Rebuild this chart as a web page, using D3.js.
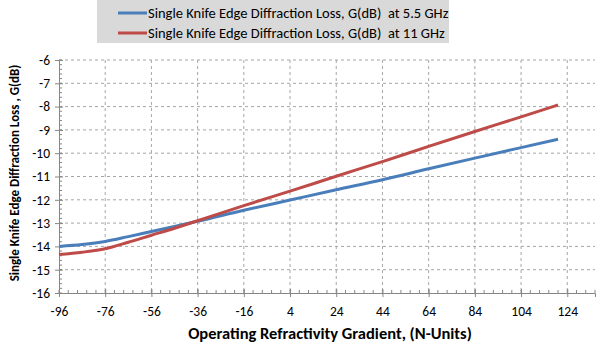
<!DOCTYPE html>
<html>
<head>
<meta charset="utf-8">
<script src="https://cdn.jsdelivr.net/npm/d3@7"></script>
<style>
  body { margin: 0; background: #fff; }
  text { font-family: Carlito, "Open Sans", "Noto Sans", sans-serif; fill: #000; }
</style>
</head>
<body>
<div id="chart"></div>
<script>
// refractivity gradient (N-units) where the curves were read
const gradient = [-96, -86, -76, -66, -56, -46, -36, -16, 4, 24, 44, 64, 84, 104, 120];
const loss55 = [-14.0, -13.92, -13.79, -13.58, -13.36, -13.14, -12.92, -12.45, -12.01, -11.57, -11.14, -10.67, -10.21, -9.76, -9.40];
const loss11 = [-14.35, -14.25, -14.1, -13.82, -13.52, -13.22, -12.9, -12.25, -11.63, -10.99, -10.36, -9.71, -9.07, -8.44, -7.93];
const xTicks = [-96, -76, -56, -36, -16, 4, 24, 44, 64, 84, 104, 124];
const yTicks = [-16, -15, -14, -13, -12, -11, -10, -9, -8, -7, -6];
const seriesNames = ["Single Knife Edge Diffraction Loss, G(dB)  at 5.5 GHz", "Single Knife Edge Diffraction Loss, G(dB)  at 11 GHz"];
const seriesColors = ["#4a7ebb", "#be4b48"];

const W = 606, H = 351;
const margin = { top: 60, right: 11, bottom: 58, left: 59 };
const width = W - margin.left - margin.right,
  height = H - margin.top - margin.bottom;

const root = d3.select("#chart").append("svg")
  .attr("width", W)
  .attr("height", H);

const svg = root.append("g")
  .attr("transform", `translate(${margin.left},${margin.top})`);

const x = d3.scaleLinear().domain([-96, 136]).range([0, width]);
const y = d3.scaleLinear().domain([-16, -6]).range([height, 0]);

// plain hyphen like the original, not the unicode minus
const fmt = d => String(d);

// dashed grid
svg.append("g")
  .selectAll("line")
  .data(yTicks.slice(1))
  .join("line")
  .attr("x1", 0).attr("x2", width)
  .attr("y1", d => y(d)).attr("y2", d => y(d))
  .attr("stroke", "#a6a6a6")
  .attr("stroke-dasharray", "3,3");

svg.append("g")
  .selectAll("line")
  .data(xTicks.slice(1))
  .join("line")
  .attr("x1", d => x(d)).attr("x2", d => x(d))
  .attr("y1", 0).attr("y2", height)
  .attr("stroke", "#a6a6a6")
  .attr("stroke-dasharray", "3,3");

// minor ticks (inside)
const xMinor = d3.range(-96, 137, 4);
svg.append("g")
  .selectAll("line")
  .data(xMinor)
  .join("line")
  .attr("x1", d => x(d)).attr("x2", d => x(d))
  .attr("y1", height).attr("y2", height - 3)
  .attr("stroke", "#868686");

const yMinor = d3.range(-16, -5.99, 0.2);
svg.append("g")
  .selectAll("line")
  .data(yMinor)
  .join("line")
  .attr("x1", 0).attr("x2", 3)
  .attr("y1", d => y(d)).attr("y2", d => y(d))
  .attr("stroke", "#868686");

// axes
const xAxis = svg.append("g")
  .attr("transform", `translate(0,${height})`)
  .call(d3.axisBottom(x).tickValues(xTicks).tickFormat(fmt).tickSize(4).tickPadding(9));
const yAxis = svg.append("g")
  .call(d3.axisLeft(y).tickValues(yTicks).tickFormat(fmt).tickSize(4).tickPadding(5));

[xAxis, yAxis].forEach(a => {
  a.select(".domain").attr("stroke", "#868686");
  a.selectAll(".tick line").attr("stroke", "#868686");
  a.selectAll(".tick text").style("font-size", "13.5px").attr("fill", "#000");
});
// major ticks cross the axis
xAxis.selectAll(".tick line").attr("y1", -4);
yAxis.selectAll(".tick line").attr("x1", 4);

// lines
const line = d3.line()
  .x((d, i) => x(gradient[i]))
  .y(d => y(d))
  .curve(d3.curveMonotoneX);

[loss55, loss11].forEach((vals, k) => {
  svg.append("path")
    .datum(vals)
    .attr("fill", "none")
    .attr("stroke", seriesColors[k])
    .attr("stroke-width", 3)
    .attr("stroke-linejoin", "round")
    .attr("d", line);
});

// axis titles
root.append("text")
  .attr("x", 330)
  .attr("y", 339)
  .attr("text-anchor", "middle")
  .style("font-size", "16.5px")
  .style("font-weight", "bold")
  .text("Operating Refractivity Gradient, (N-Units)");

root.append("text")
  .attr("transform", "translate(19,173) rotate(-90)")
  .attr("text-anchor", "middle")
  .style("font-size", "13px")
  .style("font-weight", "bold")
  .text("Single Knife Edge Diffraction Loss , G(dB)");

// legend
const legend = root.append("g");
legend.append("rect")
  .attr("x", 97).attr("y", 0)
  .attr("width", 352).attr("height", 43)
  .attr("fill", "#d9d9d9");

seriesNames.forEach((name, k) => {
  const ly = 13 + k * 20;
  legend.append("line")
    .attr("x1", 118).attr("x2", 147)
    .attr("y1", ly).attr("y2", ly)
    .attr("stroke", seriesColors[k])
    .attr("stroke-width", 3);
  legend.append("text")
    .attr("x", 148)
    .attr("y", ly + 5)
    .style("font-size", "14.5px")
    .style("white-space", "pre")
    .text(name);
});
</script>
</body>
</html>
